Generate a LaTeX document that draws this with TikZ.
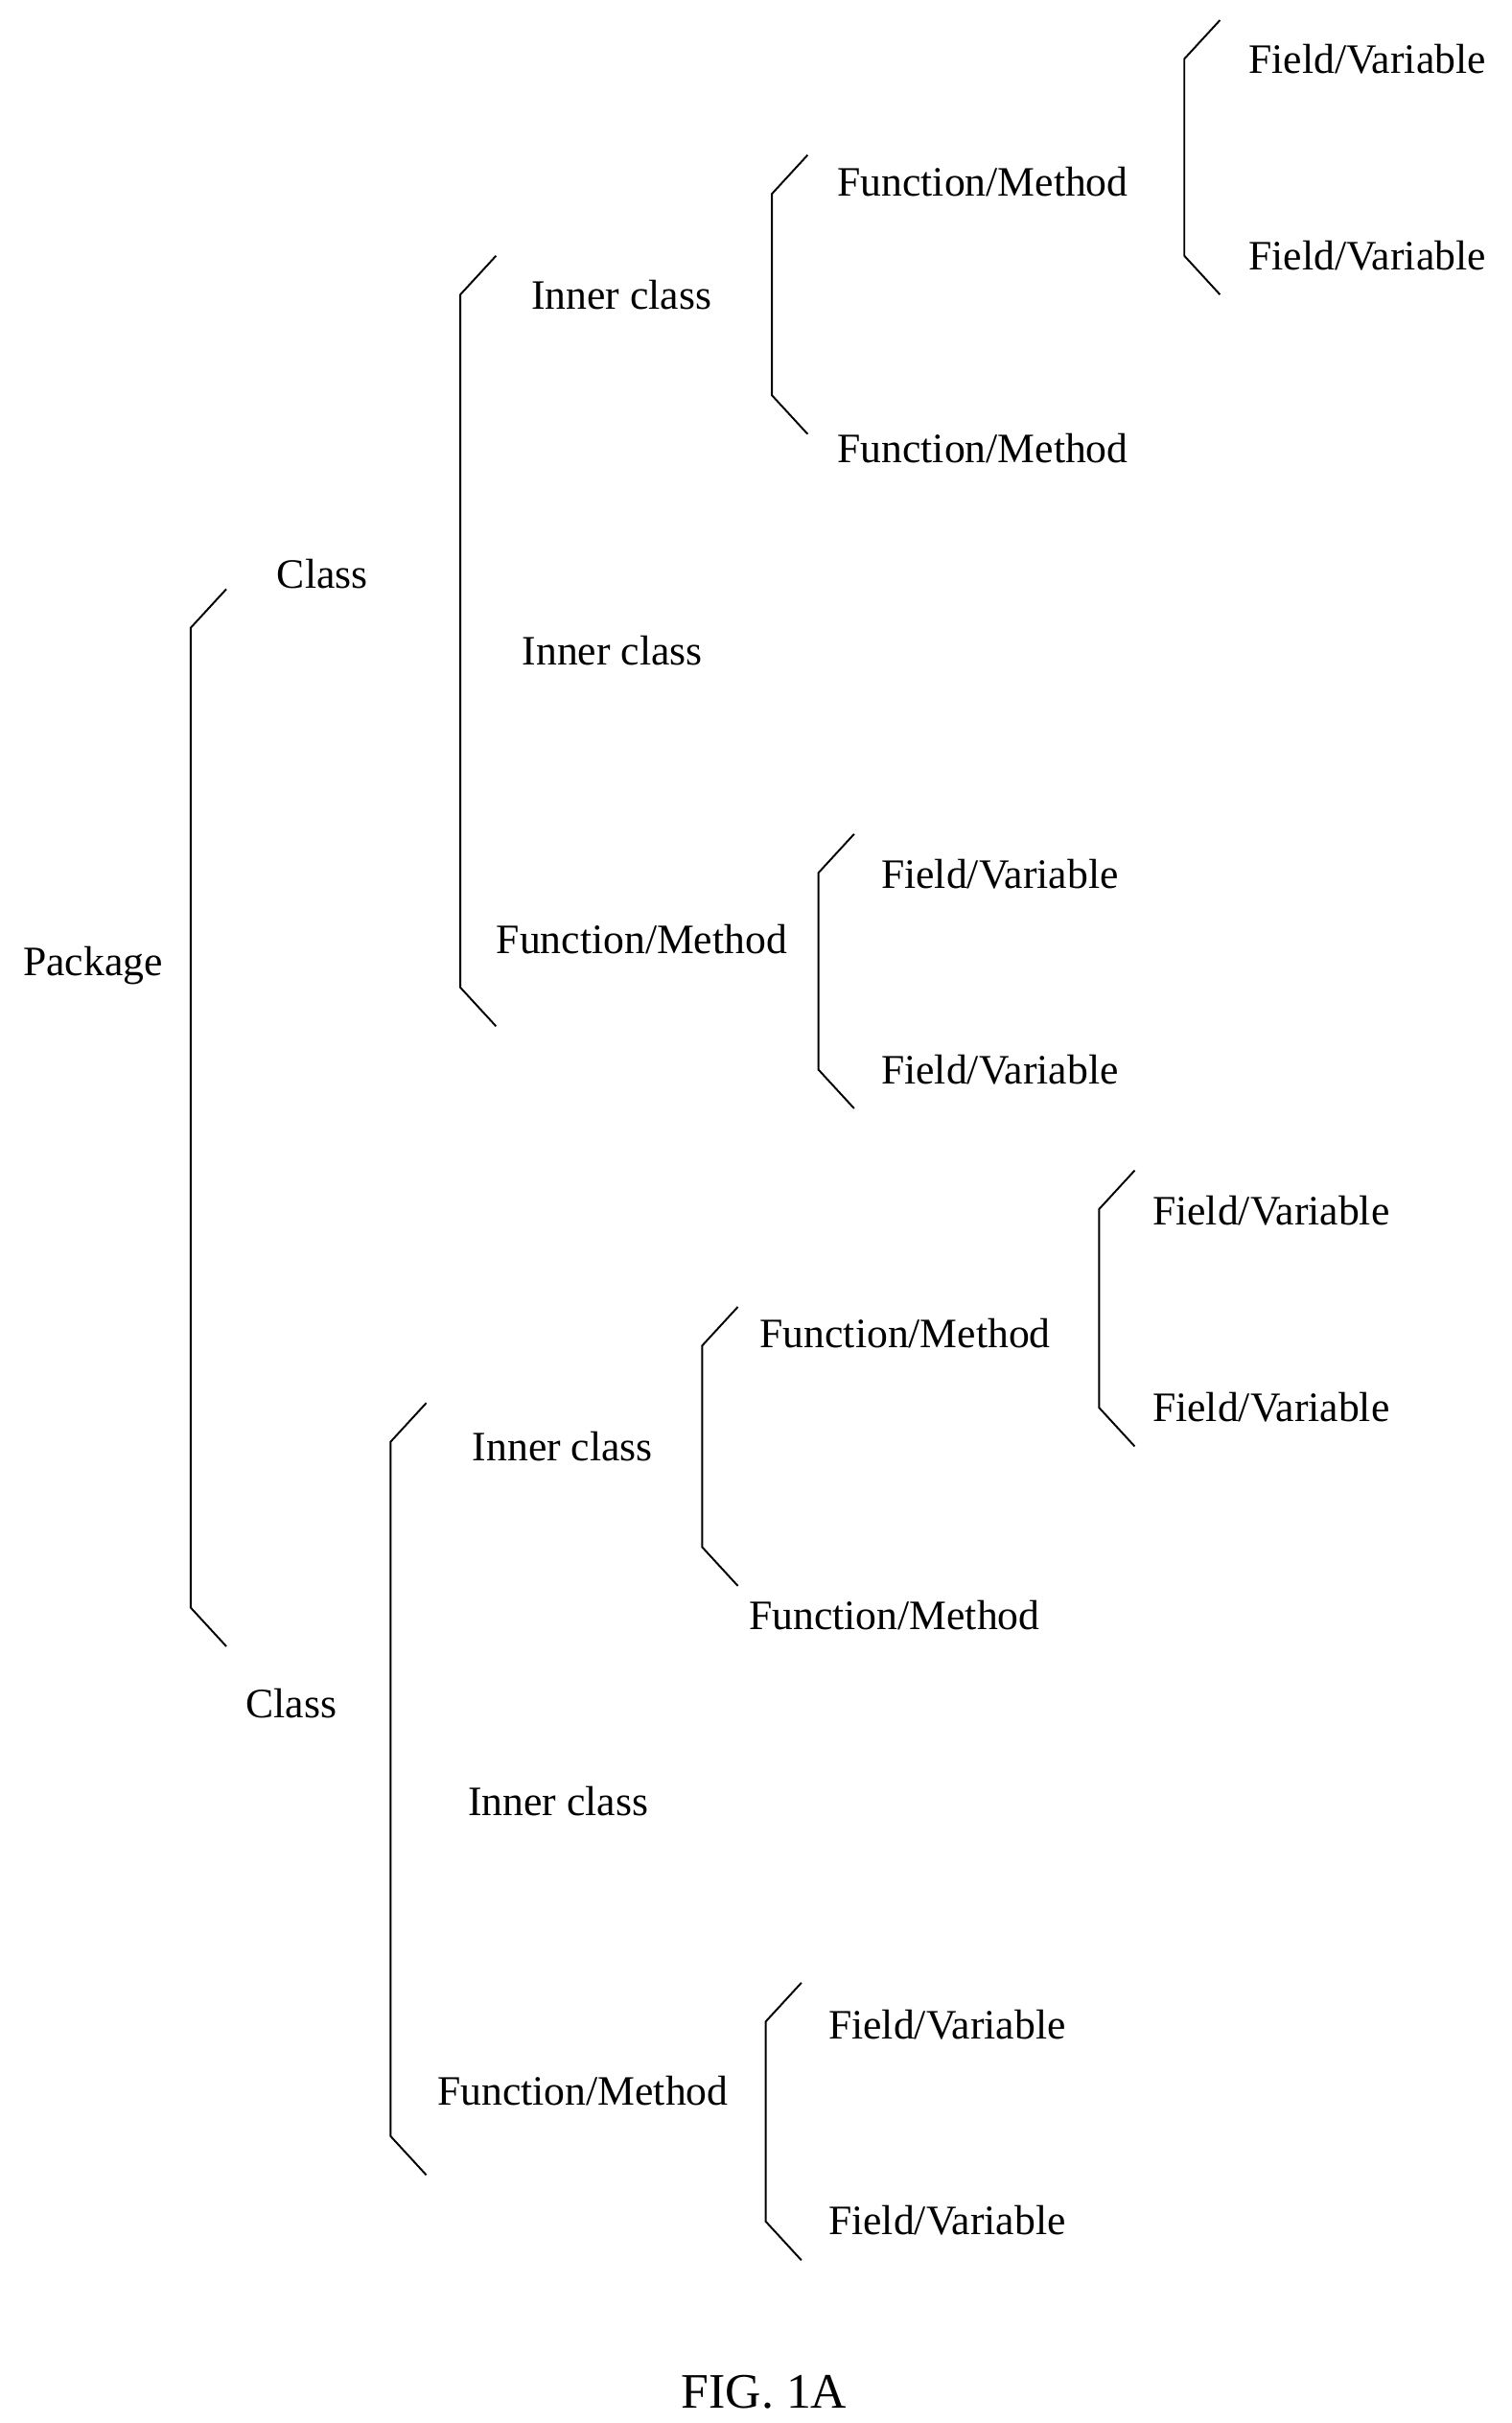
\documentclass[tikz,border=0pt]{standalone}
\usepackage{fontspec}
\setmainfont{Liberation Serif}
\usetikzlibrary{positioning}
\tikzset{
    lbl/.style={font=\fontsize{13.5}{16}\selectfont, inner sep=0pt},
    brace/.style={line width=0.6pt, black}
}
% bracket: x of spine, top y, bottom y
\newcommand{\treebrace}[3]{%
    \draw[brace] (#1+23,#2-25) -- (#1,#2) -- (#1,#3) -- (#1+23,#3+25);}

\begin{document}
\begin{tikzpicture}[x=0.5pt, y=-0.5pt]
    \useasboundingbox (0,0) rectangle (975,1563);

    % Level 0
    \node[lbl] (pkg) at (60,623) {Package};
    \treebrace{123}{405}{1037}
    \node[lbl] (cls1) at (208,370) {Class};
    \node[lbl] (cls2) at (188,1099) {Class};

    % First class
    \treebrace{297}{190}{637}
    \node[lbl] (ic1) at (401,190) {Inner class};
    \node[lbl] (ic2) at (395,420) {Inner class};
    \node[lbl] (fm1) at (414,606) {Function/Method};
    \treebrace{498}{125}{255}
    \node[lbl] (fm2) at (634,117) {Function/Method};
    \node[lbl] (fm3) at (634,289) {Function/Method};
    \treebrace{764}{38}{165}
    \node[lbl] (fv1) at (882,38) {Field/Variable};
    \node[lbl] (fv2) at (882,165) {Field/Variable};
    \treebrace{528}{563}{690}
    \node[lbl] (fv3) at (645,564) {Field/Variable};
    \node[lbl] (fv4) at (645,690) {Field/Variable};

    % Second class
    \treebrace{252}{930}{1378}
    \node[lbl] (ic3) at (363,933) {Inner class};
    \node[lbl] (ic4) at (360,1162) {Inner class};
    \node[lbl] (fm4) at (376,1349) {Function/Method};
    \treebrace{453}{868}{998}
    \node[lbl] (fm5) at (584,860) {Function/Method};
    \node[lbl] (fm6) at (577,1042) {Function/Method};
    \treebrace{709}{780}{908}
    \node[lbl] (fv5) at (820,781) {Field/Variable};
    \node[lbl] (fv6) at (820,908) {Field/Variable};
    \treebrace{494}{1304}{1433}
    \node[lbl] (fv7) at (611,1306) {Field/Variable};
    \node[lbl] (fv8) at (611,1432) {Field/Variable};

    \node[lbl, font=\fontsize{16}{19}\selectfont] (fig) at (493,1543) {FIG. 1A};
\end{tikzpicture}
\end{document}
